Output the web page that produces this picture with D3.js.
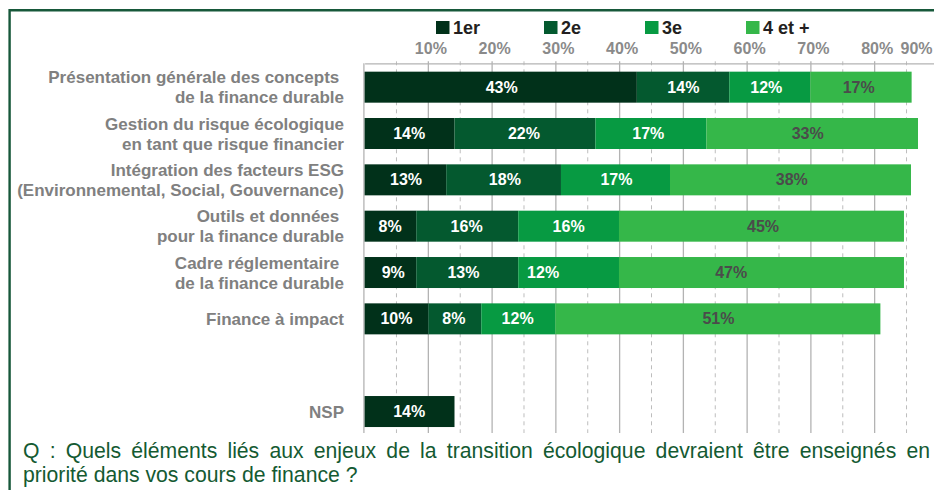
<!DOCTYPE html>
<html>
<head>
<meta charset="utf-8">
<script src="https://cdn.jsdelivr.net/npm/d3@7"></script>
<style>
    html, body { margin: 0; padding: 0; background: #fff; }
    #chart { width: 934px; height: 490px; }
    text { font-family: "Liberation Sans", Arial, sans-serif; }
</style>
</head>
<body>
<div id="chart"></div>
<script>

// rows, top to bottom (empty slot between "Finance à impact" and NSP)
const categories = [
    ['Présentation générale des concepts ', 'de la finance durable'],
    ['Gestion du risque écologique', 'en tant que risque financier'],
    ['Intégration des facteurs ESG', '(Environnemental, Social, Gouvernance)'],
    ['Outils et données ', 'pour la finance durable'],
    ['Cadre réglementaire ', 'de la finance durable'],
    ['Finance à impact'],
    [],
    ['NSP']
];

const seriesNames = ['1er', '2e', '3e', '4 et +'];

// bar lengths as drawn (% of respondents)
const first  = [42.7, 14.1, 12.8, 8.1, 8.1, 10.0, null, 14.1];
const second = [14.5, 22.1, 18.0, 16.0, 16.0, 8.3, null, null];
const third  = [12.7, 17.4, 17.1, 15.8, 15.8, 11.6, null, null];
const fourth = [15.9, 33.2, 37.8, 44.7, 44.7, 51.0, null, null];

// values printed on the bars
const firstLabels  = [43, 14, 13, 8, 9, 10, null, 14];
const secondLabels = [14, 22, 18, 16, 13, 8, null, null];
const thirdLabels  = [12, 17, 17, 16, 12, 12, null, null];
const fourthLabels = [17, 33, 38, 45, 47, 51, null, null];

const majorTicks = [10, 20, 30, 40, 50, 60, 70, 80, 90];
const minorTicks = [5, 15, 25, 35, 45, 55, 65, 75, 85];

const question = [
    'Q : Quels éléments liés aux enjeux de la transition écologique devraient être enseignés en',
    'priorité dans vos cours de finance ?'
];


class StackedBars {

    constructor() {

        this._values = [first, second, third, fourth];
        this._labels = [firstLabels, secondLabels, thirdLabels, fourthLabels];
        this._colors = ['#01311a', '#04592f', '#079a42', '#35b749'];
        this._labelColors = ['#fff', '#fff', '#fff', '#4b4b4b'];
        this._width = 934;
        this._height = 490;
        this._axisY = 63.3;
        this._gridBottom = 433;
    }


    renderTo(selector) {

        this._svg = d3.select(selector)
            .append('svg')
            .attr('width', this._width)
            .attr('height', this._height);

        this._x = d3.scaleLinear()
            .domain([0, 90])
            .range([364.6, 938.4]);

        this._y = d3.scaleBand()
            .domain(d3.range(categories.length))
            .range([64, 434.7])
            .paddingInner(0.331)
            .paddingOuter(0.1655);

        this._drawFrame();
        this._drawGrid();
        this._drawBars();
        this._drawCategories();
        this._drawLegend();
        this._drawQuestion();

        return this;
    }


    _drawFrame() {

        this._svg.append('path')
            .attr('d', 'M9.6,490V10.3H934')
            .attr('fill', 'none')
            .attr('stroke', '#17583a')
            .attr('stroke-width', 2.4);
    }


    _drawGrid() {

        var x = this._x;
        var g = this._svg.append('g').attr('class', 'grid');

        g.selectAll('line.minor')
            .data(minorTicks)
            .join('line')
            .attr('class', 'minor')
            .attr('x1', d => x(d)).attr('x2', d => x(d))
            .attr('y1', this._axisY - 2).attr('y2', this._gridBottom)
            .attr('stroke', '#bdbdbd')
            .attr('stroke-width', 1)
            .attr('stroke-dasharray', '4,4');

        g.selectAll('line.major')
            .data(majorTicks)
            .join('line')
            .attr('class', 'major')
            .attr('x1', d => x(d)).attr('x2', d => x(d))
            .attr('y1', this._axisY - 2).attr('y2', this._gridBottom)
            .attr('stroke', '#b3b3b3')
            .attr('stroke-width', 1.3);

        /*
         * Left axis line at 0%.
         */
        g.append('line')
            .attr('x1', x(0) - 0.7).attr('x2', x(0) - 0.7)
            .attr('y1', this._axisY).attr('y2', this._gridBottom)
            .attr('stroke', '#b3b3b3')
            .attr('stroke-width', 1.3);

        var axis = this._svg.append('g')
            .attr('class', 'axis x-axis')
            .attr('transform', 'translate(0,' + this._axisY + ')')
            .call(d3.axisTop(x)
                .tickValues(majorTicks)
                .tickFormat(d => d + '%')
                .tickSize(0)
                .tickPadding(9));

        axis.select('.domain')
            .attr('stroke', '#b3b3b3')
            .attr('stroke-width', 1.3);

        /*
         * Last label is pulled back inside the picture.
         */
        var width = this._width;
        axis.selectAll('.tick text')
            .attr('fill', '#8a8a8a')
            .attr('font-size', 16)
            .attr('font-weight', 'bold')
            .attr('font-family', '"Liberation Sans", Arial, sans-serif')
            .attr('x', d => Math.min(x(d) + 2, width - 18) - x(d));
    }


    _drawBars() {

        var x = this._x;
        var y = this._y;
        var h = y.bandwidth();
        var g = this._svg.append('g').attr('class', 'bars');

        categories.forEach(function(c, i) {

            var start = 0;
            var printedStart = 0;

            this._values.forEach(function(series, s) {

                var v = series[i];
                var p = this._labels[s][i];
                if (v == null) {
                    return;
                }

                g.append('rect')
                    .attr('x', x(start))
                    .attr('y', y(i))
                    .attr('width', x(start + v) - x(start))
                    .attr('height', h)
                    .attr('fill', this._colors[s]);

                if (p != null) {
                    g.append('text')
                        .attr('x', x(printedStart + p / 2))
                        .attr('y', y(i) + h / 2)
                        .attr('dy', '0.35em')
                        .attr('text-anchor', 'middle')
                        .attr('font-size', 16)
                        .attr('font-weight', 'bold')
                        .attr('fill', this._labelColors[s])
                        .text(p + '%');
                    printedStart += p;
                }

                start += v;
            }, this);
        }, this);
    }


    _drawCategories() {

        var y = this._y;
        var h = y.bandwidth();
        var g = this._svg.append('g').attr('class', 'categories');

        categories.forEach(function(lines, i) {

            if (!lines.length) {
                return;
            }

            var mid = y(i) + h / 2;
            var text = g.append('text')
                .attr('text-anchor', 'end')
                .attr('font-size', 17)
                .attr('font-weight', 'bold')
                .attr('fill', '#808080')
                .style('white-space', 'pre');

            var first = lines.length === 1 ? mid + 6 : mid - 4;
            lines.forEach(function(line, k) {
                text.append('tspan')
                    .attr('x', 344)
                    .attr('y', first + k * 20)
                    .text(line);
            });
        });
    }


    _drawLegend() {

        var offsets = [436, 544, 645, 746];
        var g = this._svg.append('g').attr('class', 'legend');

        seriesNames.forEach(function(name, s) {

            g.append('rect')
                .attr('x', offsets[s])
                .attr('y', 21)
                .attr('width', 13.5)
                .attr('height', 13)
                .attr('fill', this._colors[s]);

            g.append('text')
                .attr('x', offsets[s] + 17)
                .attr('y', 34.3)
                .attr('font-size', 18)
                .attr('font-weight', 'bold')
                .attr('fill', '#231f20')
                .text(name);
        }, this);
    }


    _drawQuestion() {

        var left = 23;
        var right = 930;
        var g = this._svg.append('g').attr('class', 'question');

        question.forEach(function(line, k) {

            var text = g.append('text')
                .attr('x', left)
                .attr('y', 457.5 + k * 24.5)
                .attr('font-size', 21.2)
                .attr('fill', '#145a32')
                .text(line);

            /*
             * First line is justified: spread the extra room over the spaces.
             */
            if (k === 0) {
                var natural = text.node().getComputedTextLength();
                var gaps = line.split(' ').length - 1;
                text.attr('word-spacing', (right - left - natural) / gaps);
            }
        });
    }
}


new StackedBars().renderTo('#chart');

</script>
</body>
</html>
